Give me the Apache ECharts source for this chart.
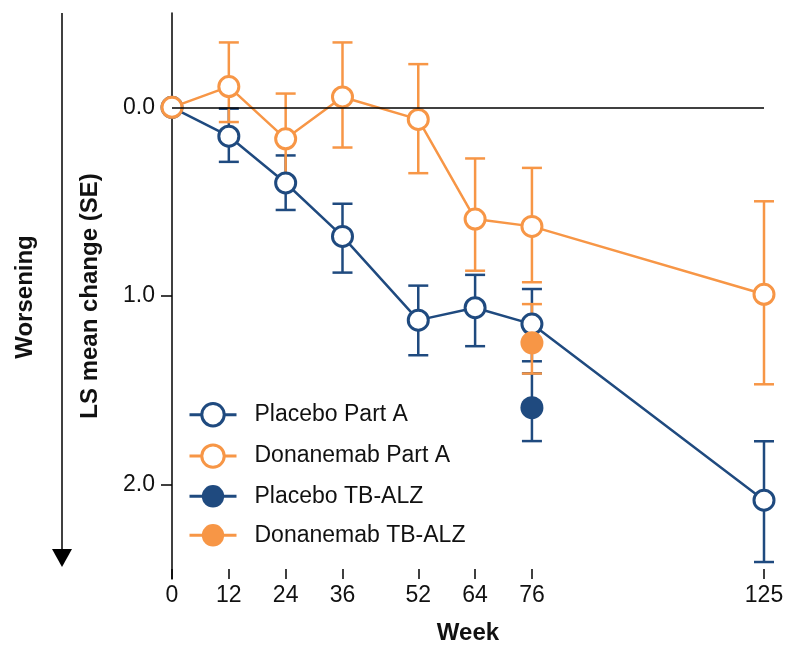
<!DOCTYPE html>
<html>
<head>
<meta charset="utf-8">
<title>LS mean change by week</title>
<script src="https://cdn.jsdelivr.net/npm/echarts@6/dist/echarts.min.js"></script>
<style>
  html, body { margin: 0; padding: 0; background: #fff; }
  #chart { width: 788px; height: 646px; }
</style>
</head>
<body>
<div id="chart"></div>
<script>
// data (y = LS mean change, larger = worse)
var weeks = [0, 12, 24, 36, 52, 64, 76, 125];
var weekTicks = [0, 12, 24, 36, 52, 64, 76, 125];
var yTicks = [0, 1, 2];

var placeboMean = [0, 0.153, 0.401, 0.684, 1.128, 1.062, 1.149, 2.082];
var placeboSeLow = [null, 0.007, 0.255, 0.511, 0.945, 0.888, 0.963, 1.77];
var placeboSeHigh = [null, 0.289, 0.544, 0.876, 1.314, 1.266, 1.346, 2.41];

var donaMean = [0, -0.11, 0.167, -0.055, 0.064, 0.592, 0.631, 0.991];
var donaSeLow = [null, -0.344, -0.073, -0.344, -0.229, 0.271, 0.321, 0.498];
var donaSeHigh = [null, 0.078, 0.378, 0.213, 0.349, 0.866, 0.927, 1.468];

var tbWeeks = [76];
var tbPlaceboMean = [1.592];
var tbPlaceboSeLow = [1.41];
var tbPlaceboSeHigh = [1.769];
var tbDonaMean = [1.248];
var tbDonaSeLow = [1.043];
var tbDonaSeHigh = [1.411];

var NAVY = '#1F4A7F';
var ORANGE = '#F79646';
var FONT = '"Liberation Sans", Arial, sans-serif';

(function () {
  'use strict';

  function points(xs, ys) {
    return xs.map(function (x, i) { return [x, ys[i]]; });
  }

  function bars(xs, lo, hi) {
    var out = [];
    xs.forEach(function (x, i) {
      if (lo[i] == null) return;
      out.push([x, lo[i], hi[i]]);
    });
    return out;
  }

  // vertical SE bar with caps, placed through the axes
  function errorBar(color) {
    return function (params, api) {
      var x = api.value(0);
      var top = api.coord([x, api.value(1)]);
      var bot = api.coord([x, api.value(2)]);
      var half = 10;
      var style = { stroke: color, lineWidth: 2.5, fill: null };
      return {
        type: 'group',
        children: [
          { type: 'line', shape: { x1: top[0], y1: top[1], x2: bot[0], y2: bot[1] }, style: style },
          { type: 'line', shape: { x1: top[0] - half, y1: top[1], x2: top[0] + half, y2: top[1] }, style: style },
          { type: 'line', shape: { x1: bot[0] - half, y1: bot[1], x2: bot[0] + half, y2: bot[1] }, style: style }
        ]
      };
    };
  }

  function seSeries(name, color, data) {
    return {
      name: name,
      type: 'custom',
      z: 1,
      silent: true,
      renderItem: errorBar(color),
      encode: { x: 0, y: [1, 2] },
      data: data
    };
  }

  function lineSeries(name, color, data, filled, z) {
    return {
      name: name,
      type: 'line',
      z: z,
      data: data,
      symbol: 'circle',
      symbolSize: filled ? 23 : 20,
      lineStyle: { color: color, width: 2.5 },
      itemStyle: {
        color: filled ? color : '#fff',
        borderColor: color,
        borderWidth: filled ? 0 : 3
      }
    };
  }

  function legendItem(name, color, filled) {
    return {
      name: name,
      itemStyle: {
        color: filled ? color : '#fff',
        borderColor: color,
        borderWidth: filled ? 0 : 3
      },
      lineStyle: { color: color, width: 3 }
    };
  }

  var chart = echarts.init(document.getElementById('chart'), null, { renderer: 'canvas' });

  var zeroLine = seSeries('Placebo Part A SE', NAVY, bars(weeks, placeboSeLow, placeboSeHigh));
  zeroLine.markLine = {
    silent: true,
    symbol: 'none',
    label: { show: false },
    lineStyle: { color: '#000', width: 1.5, type: 'solid' },
    data: [{ yAxis: 0 }]
  };

  var option = {
    animation: false,
    textStyle: { fontFamily: FONT },
    grid: { left: 172, right: 24, top: 13, bottom: 67, outerBoundsMode: 'none' },
    legend: {
      orient: 'vertical',
      left: 183,
      top: 397,
      itemWidth: 47,
      itemHeight: 28,
      itemGap: 16,
      textStyle: { fontSize: 23, color: '#111', fontFamily: FONT, padding: [0, 0, 0, 13] },
      data: [
        legendItem('Placebo Part A', NAVY, false),
        legendItem('Donanemab Part A', ORANGE, false),
        legendItem('Placebo TB-ALZ', NAVY, true),
        legendItem('Donanemab TB-ALZ', ORANGE, true)
      ]
    },
    xAxis: {
      type: 'value',
      min: 0,
      max: 125,
      name: 'Week',
      nameLocation: 'middle',
      nameGap: 42,
      nameTextStyle: { fontSize: 24, fontWeight: 'bold', color: '#111', fontFamily: FONT },
      axisLine: { show: false, onZero: false },
      axisTick: {
        show: true,
        inside: true,
        length: 10,
        customValues: weekTicks,
        lineStyle: { color: '#000', width: 1.5 }
      },
      axisLabel: {
        customValues: weekTicks,
        margin: 5,
        fontSize: 23,
        color: '#111',
        fontFamily: FONT
      },
      splitLine: { show: false }
    },
    yAxis: {
      type: 'value',
      inverse: true,
      min: -0.5,
      max: 2.5,
      name: 'LS mean change (SE)',
      nameLocation: 'middle',
      nameGap: 70,
      nameTextStyle: { fontSize: 24, fontWeight: 'bold', color: '#111', fontFamily: FONT },
      axisLine: { show: true, onZero: false, lineStyle: { color: '#000', width: 1.5 } },
      axisTick: {
        show: true,
        length: 11,
        customValues: yTicks,
        lineStyle: { color: '#000', width: 1.5 }
      },
      axisLabel: {
        customValues: yTicks,
        margin: 17,
        fontSize: 23,
        color: '#111',
        fontFamily: FONT,
        formatter: function (v) { return v.toFixed(1); }
      },
      splitLine: { show: false }
    },
    graphic: [
      // "Worsening" arrow on the far left
      { type: 'line', shape: { x1: 62, y1: 13, x2: 62, y2: 552 }, style: { stroke: '#000', lineWidth: 1.5 } },
      { type: 'polygon', shape: { points: [[52, 549], [72, 549], [62, 567]] }, style: { fill: '#000' } },
      {
        type: 'text',
        x: 25,
        y: 297,
        rotation: Math.PI / 2,
        style: {
          text: 'Worsening',
          font: 'bold 24px ' + FONT,
          fill: '#111',
          align: 'center',
          verticalAlign: 'middle'
        }
      },
      // panel letter, cut off at the top edge
      {
        type: 'text',
        x: 6,
        y: -19,
        style: { text: 'B', font: 'bold 24px ' + FONT, fill: NAVY }
      }
    ],
    series: [
      zeroLine,
      seSeries('Donanemab Part A SE', ORANGE, bars(weeks, donaSeLow, donaSeHigh)),
      seSeries('Placebo TB-ALZ SE', NAVY, bars(tbWeeks, tbPlaceboSeLow, tbPlaceboSeHigh)),
      seSeries('Donanemab TB-ALZ SE', ORANGE, bars(tbWeeks, tbDonaSeLow, tbDonaSeHigh)),
      lineSeries('Placebo Part A', NAVY, points(weeks, placeboMean), false, 3),
      lineSeries('Donanemab Part A', ORANGE, points(weeks, donaMean), false, 4),
      lineSeries('Placebo TB-ALZ', NAVY, points(tbWeeks, tbPlaceboMean), true, 5),
      lineSeries('Donanemab TB-ALZ', ORANGE, points(tbWeeks, tbDonaMean), true, 6)
    ]
  };

  chart.setOption(option);

  window.addEventListener('resize', function () {
    chart.resize();
  });
})();
</script>
</body>
</html>
